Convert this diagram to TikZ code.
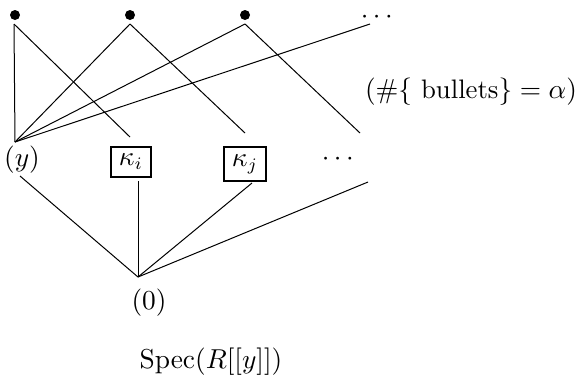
\documentclass[tikz,border=0pt]{standalone}
\usepackage{amsmath}
\begin{document}
\begin{tikzpicture}[x=0.4pt,y=-0.4pt,
  every node/.style={font=\fontsize{10.7pt}{13pt}\selectfont},
  bul/.style={circle,fill=black,inner sep=0pt,minimum size=4pt},
  kbox/.style={draw,line width=0.8pt,inner sep=3pt},
  edge/.style={line width=0.4pt}]
\useasboundingbox (0,0) rectangle (579,375);
% top bullets
\node[bul] (b1) at (15,15) {};
\node[bul] (b2) at (130,15) {};
\node[bul] (b3) at (245,15) {};
\node[inner sep=0.5pt] (td) at (379,17) {$\cdots$};
% middle row
\node (y) at (22,160) {$(y)$};
\node[kbox] (ki) at (131,162) {$\kappa_i$};
\node[kbox] (kj) at (245,164) {$\kappa_j$};
\node (md) at (340,159) {$\cdots$};
\node (alpha) at (471,92) {$(\#\{\text{ bullets}\} = \alpha)$};
% coordinates of free ends
\coordinate (yt) at (15,142);
\coordinate (kit) at (130,137);
\coordinate (kjt) at (245,133);
\coordinate (mt) at (360,133);
\coordinate (tde) at (370,24);
\coordinate (yb) at (20,176);
\coordinate (kib) at (138,181);
\coordinate (kjb) at (252,183);
\coordinate (mb) at (368,182);
\coordinate (z) at (138,277);
\coordinate (b1s) at (14,24);
\coordinate (b2s) at (130,24);
\coordinate (b3s) at (245,24);
% bottom
\node (zero) at (149,303) {$(0)$};
\node (spec) at (211,362) {$\operatorname{Spec}(R[[y]])$};
% connectors
\draw[edge] (b1s) -- (yt);
\draw[edge] (b1s) -- (kit);
\draw[edge] (b2s) -- (yt);
\draw[edge] (b2s) -- (kjt);
\draw[edge] (b3s) -- (yt);
\draw[edge] (b3s) -- (mt);
\draw[edge] (yt) -- (tde);
\draw[edge] (yb) -- (z);
\draw[edge] (kib) -- (z);
\draw[edge] (kjb) -- (z);
\draw[edge] (mb) -- (z);
\end{tikzpicture}
\end{document}
